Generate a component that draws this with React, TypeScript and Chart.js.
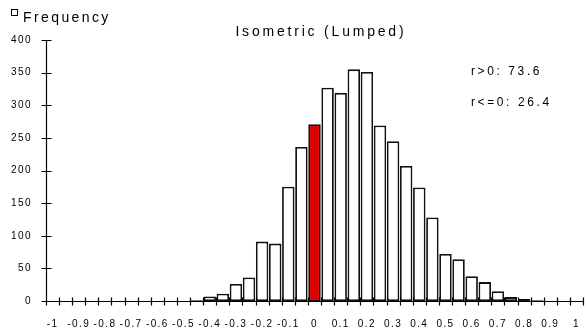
import React, { useEffect, useRef } from 'react';
import { Chart, registerables } from 'chart.js';

Chart.register(...registerables);

// Bin centres of the histogram (width 0.05)
const binCenters: string[] = [
  '-1', '-0.95', '-0.9', '-0.85', '-0.8', '-0.75', '-0.7', '-0.65', '-0.6', '-0.55',
  '-0.5', '-0.45', '-0.4', '-0.35', '-0.3', '-0.25', '-0.2', '-0.15', '-0.1', '-0.05',
  '0', '0.05', '0.1', '0.15', '0.2', '0.25', '0.3', '0.35', '0.4', '0.45',
  '0.5', '0.55', '0.6', '0.65', '0.7', '0.75', '0.8', '0.85', '0.9', '0.95', '1',
];

// Frequency per bin
const frequencies: number[] = [
  0, 0, 0, 0, 0, 0, 0, 0, 0, 0,
  0, 1, 7, 11, 26, 36, 91, 88, 175, 236,
  271, 327, 319, 355, 351, 269, 245, 207, 174, 128,
  72, 64, 38, 29, 15, 6, 3, 1, 0, 0, 0,
];

// Labels shown under every other bin
const xTickLabels: string[] = [
  '-1', '-0.9', '-0.8', '-0.7', '-0.6', '-0.5', '-0.4', '-0.3', '-0.2', '-0.1',
  '0', '0.1', '0.2', '0.3', '0.4', '0.5', '0.6', '0.7', '0.8', '0.9', '1',
];

const highlightBin = '0';
const chartTitle = 'Isometric (Lumped)';
const legendLabel = 'Frequency';
const annotations: string[] = ['r>0: 73.6', 'r<=0: 26.4'];

const FONT = "'Liberation Sans', Arial, sans-serif";

function spacedText(ctx: CanvasRenderingContext2D, text: string, x: number, y: number, size: number, spacing: number, align: 'left' | 'center') {
  ctx.save();
  ctx.font = `${size}px ${FONT}`;
  (ctx as any).letterSpacing = `${spacing}px`;
  ctx.textAlign = 'left';
  ctx.textBaseline = 'alphabetic';
  ctx.fillStyle = '#000';
  let sx = x;
  if (align === 'center') {
    const w = ctx.measureText(text).width - spacing;
    sx = x - w / 2;
  }
  ctx.fillText(text, sx, y);
  ctx.restore();
}

const decoPlugin = {
  id: 'deco',
  beforeDraw(chart: any) {
    (chart.ctx as any).letterSpacing = '1.4px';
  },
  afterDatasetsDraw(chart: any) {
    const ctx: CanvasRenderingContext2D = chart.ctx;
    const { left, right, top, bottom } = chart.chartArea;
    const xs = chart.scales.x;
    const ys = chart.scales.y;
    ctx.save();
    ctx.strokeStyle = '#000';
    ctx.lineWidth = 1.2;
    const ax = Math.round(left) + 0.5;
    const ay = Math.round(bottom) + 0.5;
    ctx.beginPath();
    ctx.moveTo(ax, top);
    ctx.lineTo(ax, ay);
    ys.ticks.forEach((t: any) => {
      const py = Math.round(ys.getPixelForValue(t.value)) + 0.5;
      ctx.moveTo(ax - 5, py);
      ctx.lineTo(ax + 5, py);
    });
    ctx.moveTo(ax, ay);
    ctx.lineTo(right, ay);
    const step = xs.getPixelForValue(1) - xs.getPixelForValue(0);
    for (let i = 0; i <= binCenters.length; i++) {
      const px = Math.round(xs.getPixelForValue(i) - step / 2) + 0.5;
      ctx.moveTo(px, ay - 4);
      ctx.lineTo(px, ay + 4);
    }
    ctx.stroke();
    ctx.restore();
  },
  afterDraw(chart: any) {
    const ctx: CanvasRenderingContext2D = chart.ctx;
    (ctx as any).letterSpacing = '0px';
    // legend
    ctx.save();
    ctx.fillStyle = '#fff';
    ctx.strokeStyle = '#000';
    ctx.lineWidth = 1;
    ctx.fillRect(11.5, 9.5, 6, 6);
    ctx.strokeRect(11.5, 9.5, 6, 6);
    ctx.restore();
    spacedText(ctx, legendLabel, 23, 22, 14, 2.4, 'left');
    // title
    spacedText(ctx, chartTitle, 319.5, 36, 14, 2.8, 'center');
    // annotations
    spacedText(ctx, annotations[0], 471, 75, 12, 2.6, 'left');
    spacedText(ctx, annotations[1], 471, 106, 12, 2.6, 'left');
  },
};

export default function App() {
  const ref = useRef<HTMLCanvasElement | null>(null);
  useEffect(() => {
    if (!ref.current) return;
    const chart = new Chart(ref.current, {
      type: 'bar',
      data: {
        labels: binCenters,
        datasets: [
          {
            label: legendLabel,
            data: frequencies,
            backgroundColor: binCenters.map((b) => (b === highlightBin ? '#dc0000' : '#ffffff')),
            borderColor: '#111111',
            borderWidth: 1.8,
            borderSkipped: false,
            categoryPercentage: 1,
            barPercentage: 0.95,
          },
        ],
      },
      options: {
        animation: false,
        responsive: false,
        maintainAspectRatio: false,
        devicePixelRatio: 1,
        layout: { padding: { top: 40, right: 2, left: 0, bottom: 0 } },
        plugins: {
          legend: { display: false },
          title: { display: false },
          tooltip: { enabled: false },
        },
        scales: {
          x: {
            type: 'category',
            offset: true,
            grid: { display: false, drawTicks: false },
            border: { display: false },
            afterFit: (s: any) => { s.height = 34; s.paddingLeft = 0; s.paddingRight = 0; },
            ticks: {
              autoSkip: false,
              maxRotation: 0,
              minRotation: 0,
              padding: 17,
              color: '#000',
              font: { family: FONT, size: 10 },
              callback: (_v: any, i: number) => (i % 2 === 0 ? xTickLabels[i / 2] : ''),
            },
          },
          y: {
            min: 0,
            max: 400,
            grid: { display: false, drawTicks: false },
            border: { display: false },
            afterFit: (s: any) => { s.width = 46; s.paddingTop = 0; s.paddingBottom = 0; },
            ticks: {
              stepSize: 50,
              padding: 14,
              color: '#000',
              font: { family: FONT, size: 10 },
            },
          },
        },
      },
      plugins: [decoPlugin],
    });
    return () => chart.destroy();
  }, []);
  return (
    <div style={{ position: 'absolute', left: 0, top: 0, width: 585, height: 335, background: '#fff' }}>
      <canvas ref={ref} width={585} height={335} style={{ display: 'block', width: 585, height: 335 }} />
    </div>
  );
}
